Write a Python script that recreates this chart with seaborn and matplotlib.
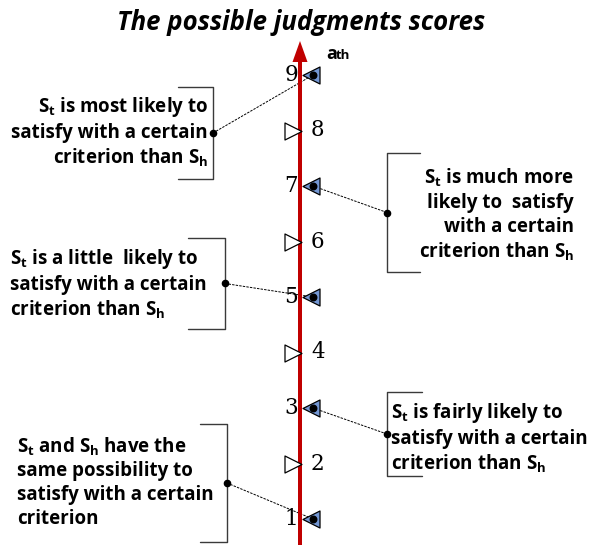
import matplotlib
matplotlib.use("Agg")
import matplotlib.pyplot as plt
import seaborn as sns
import pandas as pd

# scores on the axis
scores = [1, 2, 3, 4, 5, 6, 7, 8, 9]
odd_scores = [1, 3, 5, 7, 9]
even_scores = [2, 4, 6, 8]

# meaning of each odd score
descriptions = {
    9: "S$_\\mathrm{t}$ is most likely to\nsatisfy with a certain\ncriterion than S$_\\mathrm{h}$",
    7: "S$_\\mathrm{t}$ is much more\nlikely to  satisfy\nwith a certain\ncriterion than S$_\\mathrm{h}$",
    5: "S$_\\mathrm{t}$ is a little  likely to\nsatisfy with a certain\ncriterion than S$_\\mathrm{h}$",
    3: "S$_\\mathrm{t}$ is fairly likely to\nsatisfy with a certain\ncriterion than S$_\\mathrm{h}$",
    1: "S$_\\mathrm{t}$ and S$_\\mathrm{h}$ have the\nsame possibility to\nsatisfy with a certain\ncriterion",
}

title = "The possible judgments scores"

sns.set_style("white")
plt.rcParams["font.family"] = ["Open Sans", "DejaVu Sans"]
plt.rcParams["text.color"] = "black"
plt.rcParams["mathtext.fontset"] = "custom"
plt.rcParams["mathtext.rm"] = "Open Sans:bold"
plt.rcParams["mathtext.it"] = "Open Sans:bold"
plt.rcParams["mathtext.bf"] = "Open Sans:bold"

W, H = 589, 545
fig = plt.figure(figsize=(W / 100, H / 100), dpi=100)
ax = fig.add_axes([0, 0, 1, 1])

# score 9 sits at pixel row 75, score 1 at 519
STEP = (519 - 75) / 8.0


def py(p):
    # pixel row -> score units
    return 9 - (p - 75) / STEP


ax.set_xlim(0, W)
ax.set_ylim(py(H), py(0))
ax.axis("off")

AX_X = 300

# red axis with arrow head
ax.arrow(AX_X, py(H), 0, py(41) - py(H), width=4, head_width=15,
         head_length=py(41) - py(62), length_includes_head=True,
         color="#c00000", lw=0, zorder=2)

df_odd = pd.DataFrame({"x": [AX_X + 10.5] * len(odd_scores), "score": odd_scores})
df_even = pd.DataFrame({"x": [AX_X - 7.5] * len(even_scores), "score": even_scores})

sns.scatterplot(data=df_odd, x="x", y="score", marker="<", s=150,
                color="#7396d2", edgecolor="black", linewidth=0.9, ax=ax, zorder=3)
sns.scatterplot(data=df_even, x="x", y="score", marker=">", s=150,
                color="white", edgecolor="black", linewidth=0.9, ax=ax, zorder=3)
ax.scatter([AX_X + 13] * len(odd_scores), odd_scores, s=22, color="black", zorder=4)

for s in odd_scores:
    ax.text(AX_X - 2, s, str(s), ha="right", va="center", fontsize=15.5,
            family="DejaVu Serif", zorder=5)
for s in even_scores:
    ax.text(AX_X + 11, s, str(s), ha="left", va="center", fontsize=15.5,
            family="DejaVu Serif", zorder=5)

ax.text(326, py(59), "a", fontsize=13, fontweight="bold", va="baseline")
ax.text(336, py(59), "th", fontsize=9.5, fontweight="bold", va="baseline")

ax.text(301, py(30), title, ha="center", va="baseline", fontsize=18.5,
        fontweight="bold", fontstyle="italic")

# bracket layout: score -> (bracket x, top, bottom, tick end x, text x, text y, align)
layout = {
    9: (213, 87, 179, 178, 208, 132, "right"),
    7: (387, 153, 272, 420, 574, 215, "right"),
    5: (225, 238, 329, 188, 10, 284, "left"),
    3: (387, 392, 476, 422, 391, 438, "left"),
    1: (227, 424, 542, 200, 17, 482, "left"),
}

for s, (bx, top, bot, tx, txt_x, txt_y, al) in layout.items():
    ax.plot([tx, bx, bx, tx], [py(top), py(top), py(bot), py(bot)],
            color="#3a3a3a", lw=1.0, zorder=1)
    mid = py((top + bot) / 2)
    ax.plot([bx, AX_X + 13], [mid, s], color="black", lw=0.7,
            ls=(0, (2.5, 1.2)), zorder=1)
    ax.scatter([bx], [mid], s=20, color="black", zorder=4)
    ax.text(txt_x, py(txt_y), descriptions[s], ha=al, va="center",
            multialignment=al, fontsize=13.5, fontweight="bold",
            linespacing=1.25)

fig.savefig("out.png", dpi=100)
